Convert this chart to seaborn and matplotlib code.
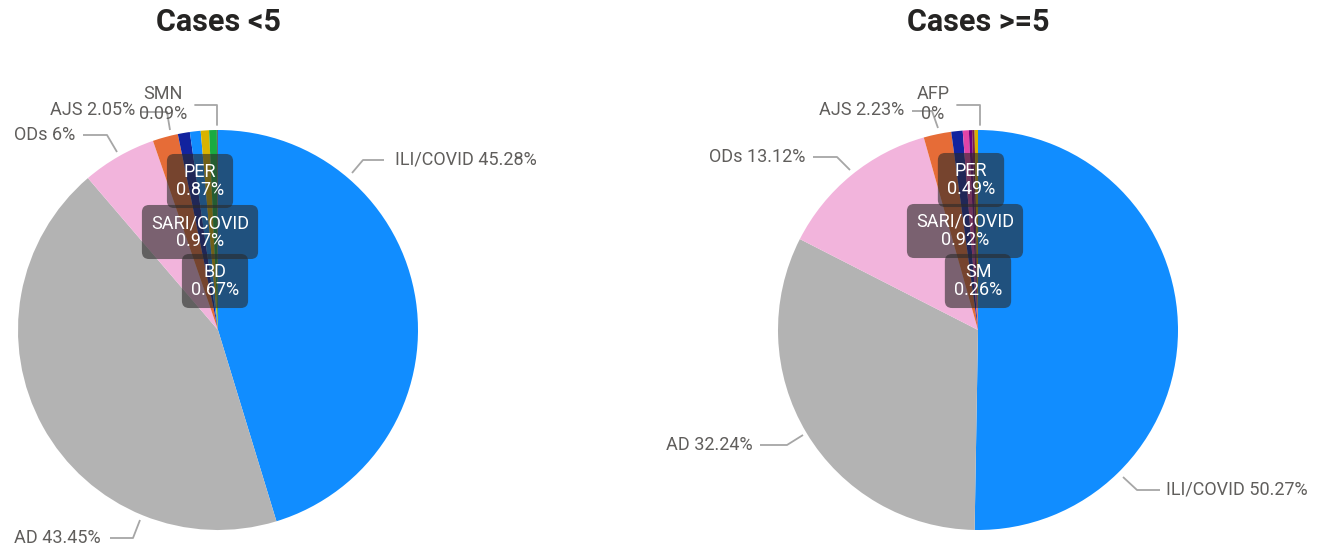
import matplotlib.pyplot as plt
import seaborn as sns
import numpy as np

# ---- data ----
left_labels = ["ILI/COVID", "AD", "ODs", "AJS", "SARI/COVID", "PER", "BD", "Other", "SMN"]
left_values = [45.28, 43.45, 6.00, 2.05, 0.97, 0.87, 0.67, 0.62, 0.09]
left_colors = ["#118DFF", "#B3B3B3", "#F2B4DC", "#E66C37", "#12239E", "#118DFF", "#D9B300", "#1AAB40", "#5F6B6D"]

right_labels = ["ILI/COVID", "AD", "ODs", "AJS", "SARI/COVID", "PER", "SM", "Other", "Other2", "AFP"]
right_values = [50.27, 32.24, 13.12, 2.23, 0.92, 0.49, 0.26, 0.20, 0.27, 0.0]
right_colors = ["#118DFF", "#B3B3B3", "#F2B4DC", "#E66C37", "#12239E", "#E044A7", "#6B007B", "#7A2048", "#D9B300", "#E66C37"]

# ---- layout (pixels, y measured from top) ----
W, H = 1332, 551
R = 200
centers = {"left": (218, 330), "right": (978, 330)}
titles = {"left": ("Cases <5", 218), "right": ("Cases >=5", 978)}

# outside labels: (label, leader points, text position, ha)
left_out = [
    ("ILI/COVID", [(352, 173), (363, 160), (384, 160)], (395, 160), "left"),
    ("AD", [(140, 520), (133, 538), (110, 538)], (101, 538), "right"),
    ("ODs", [(117, 152), (107, 135), (83, 135)], (75, 135), "right"),
    ("AJS", [(170, 130), (167, 112), (140, 112)], (135, 110), "right"),
]
left_top = ("SMN", [(217, 125), (217, 105), (195, 105)], (163, 104))
right_out = [
    ("ILI/COVID", [(1123, 477), (1137, 490), (1160, 490)], (1166, 490), "left"),
    ("AD", [(803, 435), (787, 445), (760, 445)], (753, 445), "right"),
    ("ODs", [(850, 170), (837, 157), (813, 157)], (805, 157), "right"),
    ("AJS", [(938, 128), (932, 111), (912, 111)], (904, 110), "right"),
]
right_top = ("AFP", [(980, 125), (980, 105), (957, 105)], (933, 104))

left_in = [("PER", (200, 181)), ("SARI/COVID", (200, 232)), ("BD", (215, 281))]
right_in = [("PER", (971, 180)), ("SARI/COVID", (965, 231)), ("SM", (978, 281))]

sns.set_theme(style="white")
plt.rcParams["font.family"] = ["Roboto", "DejaVu Sans"]

fig = plt.figure(figsize=(W / 100, H / 100), dpi=100)
ax = fig.add_axes([0, 0, 1, 1])
ax.set_xlim(0, W)
ax.set_ylim(0, H)
ax.set_aspect("equal")
ax.axis("off")


def P(x, y):
    return x, H - y


def fmt(v):
    s = f"{v:.2f}".rstrip("0").rstrip(".")
    return s + "%"


label_grey = "#605E5C"
line_grey = "#A6A6A6"


def draw(side, labels, values, colors, outs, top, ins):
    cx, cy = centers[side]
    ax.pie(values, colors=colors, startangle=90, counterclock=False,
           center=P(cx, cy), radius=R, frame=True,
           wedgeprops=dict(linewidth=0))
    lookup = dict(zip(labels, values))
    for name, pts, tpos, ha in outs:
        xs, ys = zip(*[P(*p) for p in pts])
        ax.plot(xs, ys, color=line_grey, lw=1.3, solid_capstyle="butt")
        ax.text(*P(*tpos), f"{name} {fmt(lookup[name])}", ha=ha, va="center",
                fontsize=13, color=label_grey)
    name, pts, tpos = top
    xs, ys = zip(*[P(*p) for p in pts])
    ax.plot(xs, ys, color=line_grey, lw=1.3)
    ax.text(*P(*tpos), f"{name}\n{fmt(lookup[name])}", ha="center", va="center",
            fontsize=13, color=label_grey, linespacing=1.1)
    for name, pos in ins:
        ax.text(*P(*pos), f"{name}\n{fmt(lookup[name])}", ha="center", va="center",
                fontsize=13, color="white", linespacing=1.0,
                bbox=dict(boxstyle="round,pad=0.5,rounding_size=0.4",
                          fc="#2B2A29", ec="none", alpha=0.6))
    title, tx = titles[side]
    ax.text(*P(tx, 22), title, ha="center", va="center", fontsize=22,
            fontweight="bold", color="#252423")


draw("left", left_labels, left_values, left_colors, left_out, left_top, left_in)
draw("right", right_labels, right_values, right_colors, right_out, right_top, right_in)

ax.set_xlim(0, W)
ax.set_ylim(0, H)
ax.axis("off")

fig.savefig("out.png", dpi=100, facecolor="white")
